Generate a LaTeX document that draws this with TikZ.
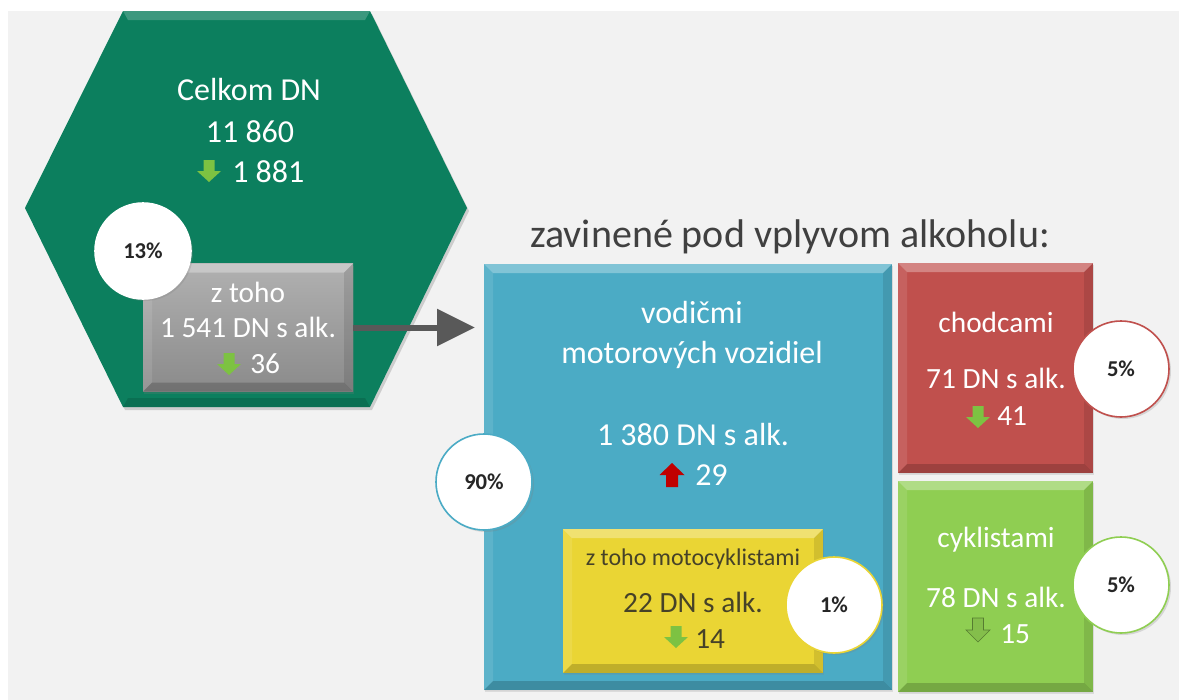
\documentclass[tikz,border=0pt]{standalone}
\usepackage{fontspec}
\setmainfont{Carlito}
\usepackage{tikz}
\usetikzlibrary{arrows.meta,calc,shadows}

\definecolor{bggrey}{RGB}{242,242,242}
\definecolor{hexgreen}{RGB}{12,127,94}
\definecolor{boxgrey}{RGB}{163,163,163}
\definecolor{boxblue}{RGB}{75,171,197}
\definecolor{boxyellow}{RGB}{234,213,52}
\definecolor{boxred}{RGB}{192,80,77}
\definecolor{boxgreen}{RGB}{143,206,82}
\definecolor{flowgrey}{RGB}{89,89,89}
\definecolor{titlegrey}{RGB}{64,64,64}
\definecolor{txtdark}{RGB}{38,38,38}
\definecolor{txtyellow}{RGB}{70,66,40}
\definecolor{arrgreen}{RGB}{125,194,66}
\definecolor{arrred}{RGB}{192,0,0}

\tikzset{
  dnarr/.pic={\fill[arrgreen] (-5.5,11) -- (5.5,11) -- (5.5,0) -- (12,0) -- (0,-11) -- (-12,0) -- (-5.5,0) -- cycle;},
  dnarrfaint/.pic={\filldraw[fill=boxgreen!92!black, draw=boxgreen!60!black, line width=0.5pt] (-5.5,12) -- (5.5,12) -- (5.5,0) -- (12,0) -- (0,-12) -- (-12,0) -- (-5.5,0) -- cycle;},
  uparr/.pic={\fill[arrred] (-6,-12) -- (6,-12) -- (6,0) -- (12.5,0) -- (0,12) -- (-12.5,0) -- (-6,0) -- cycle;},
}

\begin{document}
\begin{tikzpicture}[x=0.75pt,y=0.75pt,yscale=-1,xscale=1,
  box/.style={inner sep=0pt, outer sep=0pt, drop shadow={opacity=.2,shadow xshift=1pt,shadow yshift=-1.5pt}},
  pct/.style={circle, fill=white, draw=#1, line width=1.2pt, minimum size=72pt, inner sep=0pt,
    font=\fontsize{17}{20}\selectfont\bfseries, text=txtdark,
    drop shadow={opacity=.25,shadow xshift=1.5pt,shadow yshift=-1.5pt}},
  big/.style={text=white, anchor=base, inner sep=0pt, font=\fontsize{24}{28}\selectfont},
  mid/.style={text=white, anchor=base, inner sep=0pt, font=\fontsize{22}{26}\selectfont},
  flowarr/.style={draw=flowgrey, line width=4.5pt, -{Triangle[length=28.5pt,width=27pt]}},
]
\useasboundingbox (0,0) rectangle (1179,700);

%Background
\fill[bggrey] (8,11) rectangle (1179,700);

%Shape: Hexagon
\fill[black,opacity=.15] (125,14) -- (372,14) -- (469,211) -- (372,410) -- (125,410) -- (27,211) -- cycle;
\fill[hexgreen] (123,11) -- (370,11) -- (467,208) -- (370,407) -- (123,407) -- (25,208) -- cycle;
\fill[white,opacity=.2] (123,11) -- (370,11) -- (365,20) -- (128,20) -- cycle;
\fill[black,opacity=.12] (123,407) -- (370,407) -- (365,398) -- (128,398) -- cycle;

%Shape: Rectangles
\node[box, minimum width=157.5pt, minimum height=96pt, top color=boxgrey!85!white, bottom color=boxgrey!85!black] (greybox) at (248,327.5) {};
\node[box, minimum width=306pt, minimum height=319.5pt, fill=boxblue] (bluebox) at (688,477) {};
\node[box, minimum width=146.25pt, minimum height=157.5pt, fill=boxred] (redbox) at (995.5,368) {};
\node[box, minimum width=146.25pt, minimum height=158.25pt, fill=boxgreen] (greenbox) at (995.5,586.5) {};
\node[box, minimum width=195pt, minimum height=108pt, fill=boxyellow] (yellowbox) at (693,601) {};

%Bevels
\foreach \b in {greybox,bluebox,yellowbox,redbox,greenbox}{
  \fill[white,opacity=.3] (\b.north west) -- (\b.north east) -- ($(\b.north east)+(-9,9)$) -- ($(\b.north west)+(9,9)$) -- cycle;
  \fill[white,opacity=.1] (\b.north west) -- ($(\b.north west)+(9,9)$) -- ($(\b.south west)+(9,-9)$) -- (\b.south west) -- cycle;
  \fill[black,opacity=.1] (\b.north east) -- ($(\b.north east)+(-9,9)$) -- ($(\b.south east)+(-9,-9)$) -- (\b.south east) -- cycle;
  \fill[black,opacity=.18] (\b.south west) -- ($(\b.south west)+(9,-9)$) -- ($(\b.south east)+(-9,-9)$) -- (\b.south east) -- cycle;
}

%Straight Lines
\draw[flowarr] (greybox.east) -- ($(greybox.east -| bluebox.west)+(-9,0)$);

%Circles
\node[pct=white] (p13) at (143,251) {13\%};
\node[pct=boxblue] (p90) at (484,482) {90\%};
\node[pct=boxyellow] (p1) at (834,605) {1\%};
\node[pct=boxred] (p5a) at (1121,369) {5\%};
\node[pct=boxgreen] (p5b) at (1121,585) {5\%};

% Text Node
\node[text=titlegrey, anchor=base west, inner sep=0pt, font=\fontsize{30}{34}\selectfont] (title) at (530,247) {zavinené pod vplyvom alkoholu:};
% Text Node
\node[big] (celkom) at (249,100) {Celkom DN};
\node[big] (n11860) at (250,142) {11 860};
\pic at (209,171) {dnarr};
\node[big, anchor=base west] (n1881) at (232,182) {1 881};
% Text Node
\node[mid] (ztoho) at (248,302) {z toho};
\node[mid] (n1541) at (248,337) {1 541 DN s alk.};
\pic at (229,364) {dnarr};
\node[mid, anchor=base west] (n36) at (250,373) {36};
% Text Node
\node[big] (vodicmi) at (692,323) {vodičmi};
\node[big] (motor) at (692,363) {motorových vozidiel};
\node[big] (n1380) at (693,445) {1 380 DN s alk.};
\pic at (672,475) {uparr};
\node[big, anchor=base west] (n29) at (695,485) {29};
% Text Node
\node[mid, text=txtyellow, font=\fontsize{18}{22}\selectfont] (moto) at (693,565) {z toho motocyklistami};
\node[mid, text=txtyellow] (n22) at (693,612) {22 DN s alk.};
\pic at (676,637) {dnarr};
\node[mid, text=txtyellow, anchor=base west] (n14) at (695,648) {14};
% Text Node
\node[mid] (chodcami) at (996,332) {chodcami};
\node[mid] (n71) at (996,388) {71 DN s alk.};
\pic at (978,417) {dnarr};
\node[mid, anchor=base west] (n41) at (997,425) {41};
% Text Node
\node[mid] (cyklistami) at (996,547) {cyklistami};
\node[mid] (n78) at (996,607) {78 DN s alk.};
\pic at (978,630) {dnarrfaint};
\node[mid, anchor=base west] (n15) at (1000,643) {15};

\end{tikzpicture}
\end{document}
